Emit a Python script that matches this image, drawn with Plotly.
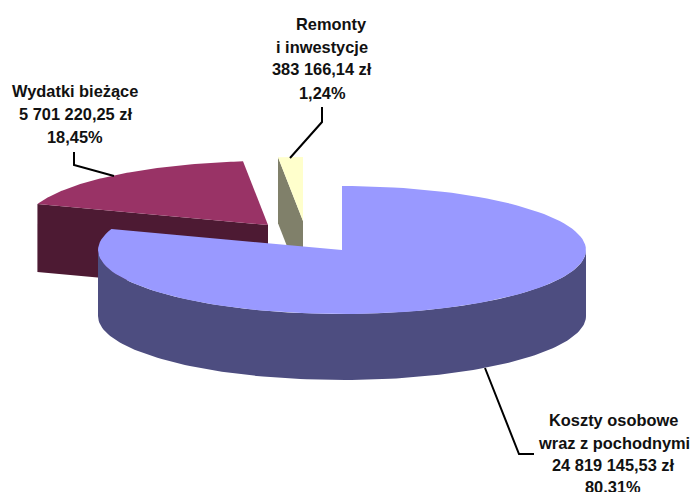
import numpy as np
import plotly.graph_objects as go

# --- data ---
categories = ["Koszty osobowe wraz z pochodnymi", "Wydatki bieżące", "Remonty i inwestycje"]
values = [24819145.53, 5701220.25, 383166.14]
label_lines = [
    ["Koszty osobowe", "wraz z pochodnymi", "24 819 145,53 zł", "80,31%"],
    ["Wydatki bieżące", "5 701 220,25 zł", "18,45%"],
    ["Remonty", "i inwestycje", "383 166,14 zł", "1,24%"],
]
top_colors = ["#9999FF", "#993366", "#FFFFCC"]
side_colors = ["#4D4D80", "#4D1A33", "#80806A"]

# --- pie geometry (pixels in a 691x492 frame) ---
RX, RY = 244, 64
centers = [(342, 250), (268, 225), (303, 221)]
depths = [66, 68, 66]
label_pos = [
    [(613, 420), (613.5, 443), (613, 465), (613, 487)],
    [(75, 91), (75, 114), (75, 137)],
    [(331, 24), (322, 47), (322, 69), (322, 93)],
]
leaders = [
    ([485, 519, 534], [368, 454, 454]),
    ([74, 74, 114], [152, 165, 176]),
    ([322, 322, 290], [107, 122, 158]),
]


def warp(theta):
    # foreshortening of the far rim seen in the 3D view
    back = 2 * np.pi - theta
    return np.where(back < np.radians(71), 2 * np.pi - (back + 0.126 * np.sin(2.535 * back)), theta)


def rim(cx, cy, a0, a1, n=120):
    t = warp(np.linspace(a0, a1, n))
    return cx + RX * np.sin(t), cy - RY * np.cos(t)


total = sum(values)
edges = np.concatenate([[0], np.cumsum(values) / total * 2 * np.pi])

fig = go.Figure()


def poly(x, y, color):
    fig.add_trace(go.Scatter(x=list(x), y=list(y), mode="lines", fill="toself", fillcolor=color,
                             line=dict(width=0, color=color), hoverinfo="skip", showlegend=False))


for i in [2, 1, 0]:
    cx, cy = centers[i]
    d = depths[i]
    a0, a1 = edges[i], edges[i + 1]
    if i == 0:
        # outer wall: front half of the rim
        xa, ya = rim(cx, cy, np.pi / 2, 3 * np.pi / 2)
        poly(np.r_[xa, xa[::-1]], np.r_[ya, ya[::-1] + d], side_colors[i])
    else:
        # cut face turned towards the viewer
        sx, sy = rim(cx, cy, a0, a0, n=1)
        ex, ey = float(sx[0]), float(sy[0])
        poly([ex, cx, cx, ex], [ey, cy, cy + d, ey + d], side_colors[i])
    xs, ys = rim(cx, cy, a0, a1)
    poly(np.r_[cx, xs, cx], np.r_[cy, ys, cy], top_colors[i])

for lx, ly in leaders:
    fig.add_trace(go.Scatter(x=lx, y=ly, mode="lines", line=dict(color="black", width=2),
                             hoverinfo="skip", showlegend=False))

annotations = []
for lines, positions in zip(label_lines, label_pos):
    for text, (x, y) in zip(lines, positions):
        annotations.append(dict(x=x, y=y, text=text, showarrow=False, xanchor="center", yanchor="middle",
                                font=dict(family="Liberation Sans", size=16.4, color="#111111", weight="bold")))

fig.update_layout(
    width=691, height=492, margin=dict(l=0, r=0, t=0, b=0),
    paper_bgcolor="white", plot_bgcolor="white", showlegend=False,
    xaxis=dict(range=[0, 691], visible=False, fixedrange=True),
    yaxis=dict(range=[492, 0], visible=False, fixedrange=True),
    annotations=annotations,
)
fig.write_html("out.html", config={"displayModeBar": False},
               post_script="document.body.style.margin='0';")
